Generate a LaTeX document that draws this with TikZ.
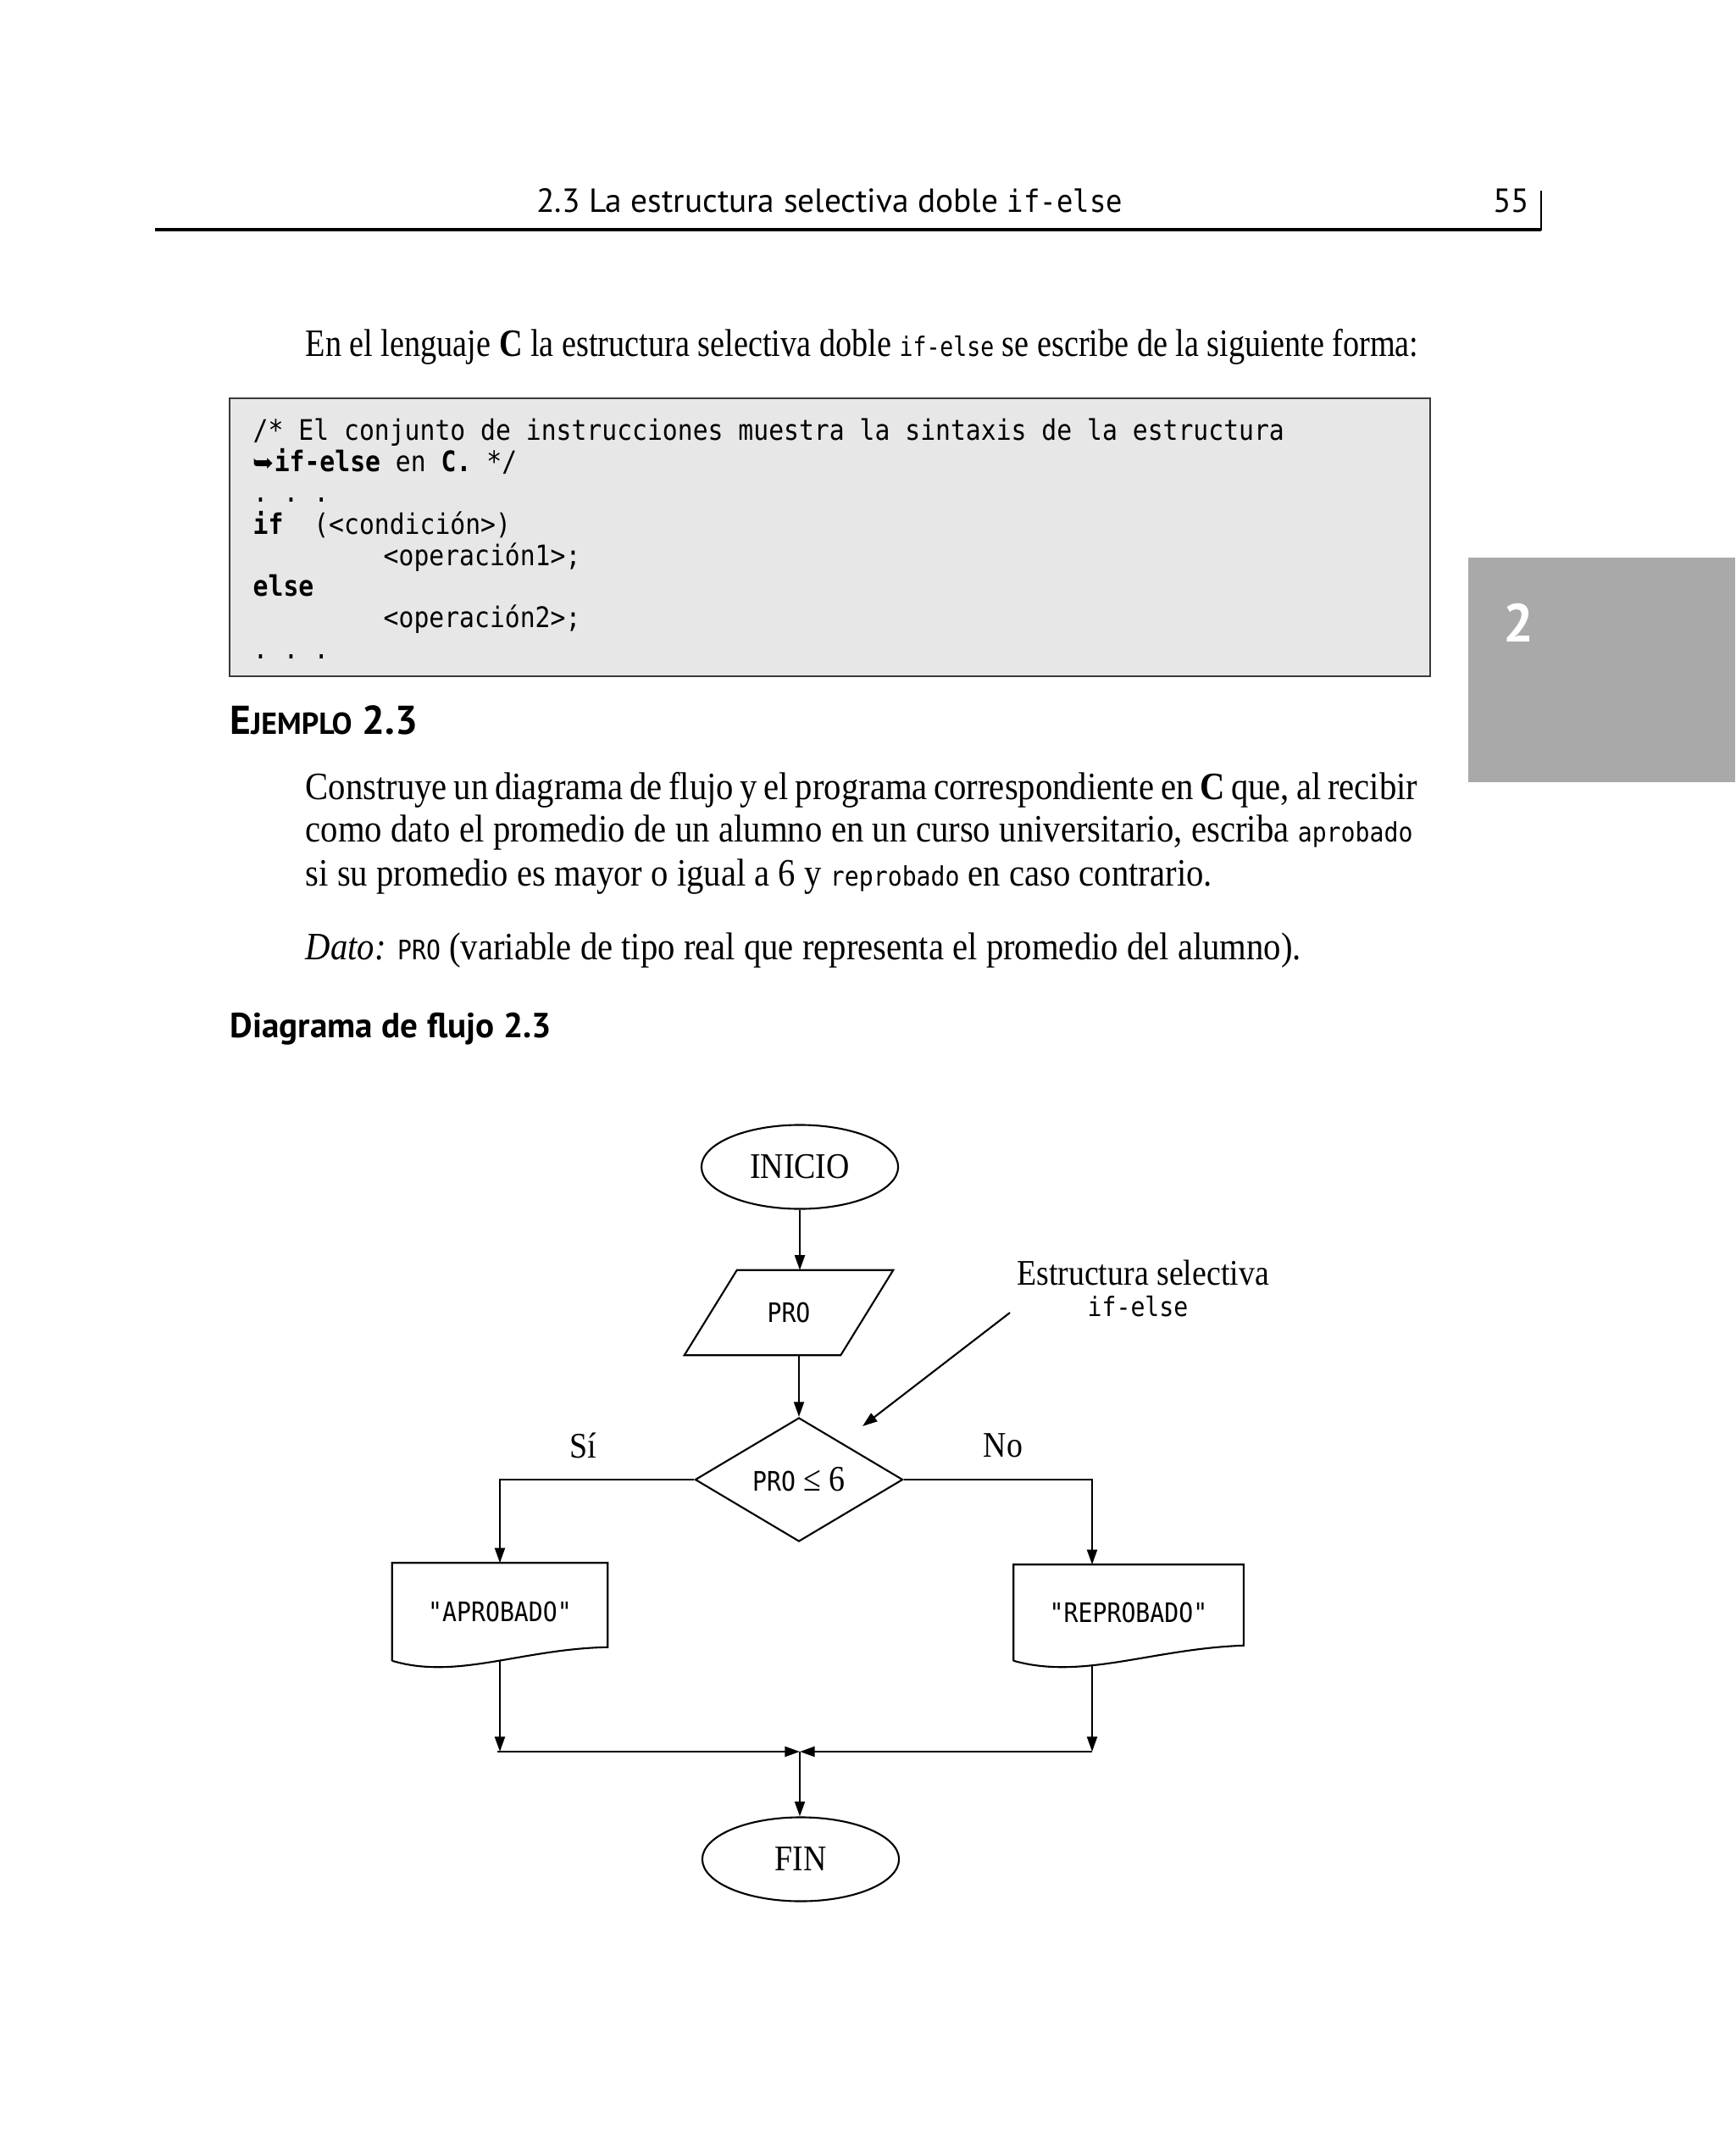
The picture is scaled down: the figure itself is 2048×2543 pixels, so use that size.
\documentclass[tikz,border=0pt]{standalone}
\usepackage{fontspec}
\setmainfont{Liberation Serif}[FakeStretch=0.89]
\setsansfont{PT Sans}
\newfontfamily\codefont{DejaVu Sans Mono}[FakeStretch=0.89]
\newfontfamily\symfont{DejaVu Sans}
\usepackage{graphicx}
\usepackage{xcolor}
\usepackage{tikz}
\usetikzlibrary{shapes,arrows,arrows.meta,positioning,calc}

\definecolor{boxgray}{HTML}{E7E7E7}
\definecolor{boxline}{HTML}{3A3A3A}
\definecolor{tabgray}{HTML}{A9A9A9}

\newcommand{\bodyfont}{\fontsize{13}{15.5}\selectfont}
\newcommand{\flowfont}{\fontsize{12.1}{14}\selectfont}
\newcommand{\cmono}[1]{{\codefont\fontsize{9}{10}\selectfont #1}}

\begin{document}
\begin{tikzpicture}[
    x=0.01cm, y=-0.01cm,
    txt/.style={anchor=base west, inner sep=0pt, font=\bodyfont},
    code/.style={anchor=base west, inner sep=0pt, font=\codefont\fontsize{9.5}{11}\selectfont},
    head/.style={anchor=base, inner sep=0pt, font=\sffamily\fontsize{11.2}{13}\selectfont},
    term/.style={ellipse, draw, line width=0.6pt, minimum width=2.32cm, minimum height=0.99cm, inner sep=0pt, font=\flowfont},
    io/.style={minimum width=1.83cm, minimum height=0.99cm, inner sep=0pt},
    dec/.style={diamond, draw, line width=0.6pt, aspect=1.68, minimum width=2.45cm, minimum height=1.46cm, inner sep=0pt, font=\flowfont},
    doc/.style={minimum width=2.53cm, minimum height=1.14cm, inner sep=0pt},
    flow/.style={line width=0.6pt},
    arrow/.style={-{Triangle[length=5pt,width=3.4pt]}, line width=0.6pt}
]
\useasboundingbox (0,0) rectangle (2048,2543);

% running head
\node[head] (headtxt) at (979,251) {2.3 La estructura selectiva doble {\codefont\fontsize{10.3}{12}\selectfont if-else}};
\node[head, anchor=base east] (pagenum) at (1806,251) {55};
\draw[line width=1.3pt] (183,271) -- (1819,271);
\draw[line width=0.5pt] (1819,225) -- (1819,272);

% chapter tab
\fill[tabgray] (1733,658) rectangle (2048,923);
\node[font=\sffamily\bfseries\fontsize{18}{20}\selectfont, text=white] (tabnum) at (1792,735) {2};

\node[txt] (intro) at (360,421) {\resizebox{13.13cm}{\height}{En el lenguaje \textbf{C} la estructura selectiva doble \cmono{if-else} se escribe de la siguiente forma:}};

% code box
\draw[boxline, fill=boxgray, line width=0.8pt] (271,470) rectangle (1688,798);
\node[code] (c1) at (298,520) {/* El conjunto de instrucciones muestra la sintaxis de la estructura};
\node[code] (c2) at (298,557) {{\symfont\fontsize{8.5}{10}\selectfont ➥}\textbf{if-else} en \textbf{C.} */};
\node[code] (c3) at (298,593) {.\ .\ .};
\node[code] (c4) at (298,630) {\textbf{if}\ \ (<condición>)};
\node[code] (c5) at (452,667) {<operación1>;};
\node[code] (c6) at (298,703) {\textbf{else}};
\node[code] (c7) at (452,740) {<operación2>;};
\node[code] (c8) at (298,777) {.\ .\ .};

% example
\node[anchor=base west, inner sep=0pt, font=\sffamily\bfseries\fontsize{13.5}{16}\selectfont] (ejemplo) at (271,866) {E{\fontsize{10.2}{12}\selectfont JEMPLO} 2.3};
\node[txt] (p1) at (360,943) {\makebox[13.12cm][s]{Construye un diagrama de flujo y el programa correspondiente en \textbf{C} que, al recibir}};
\node[txt] (p2) at (360,993) {\makebox[13.06cm][s]{como dato el promedio de un alumno en un curso universitario, escriba \cmono{aprobado}}};
\node[txt] (p3) at (360,1045) {si su promedio es mayor o igual a 6 y \cmono{reprobado} en caso contrario.};
\node[txt] (dato) at (360,1132) {\textit{Dato:} \cmono{PRO} (variable de tipo real que representa el promedio del alumno).};
\node[anchor=base west, inner sep=0pt, font=\sffamily\bfseries\fontsize{11.7}{14}\selectfont] (diag) at (271,1224) {Diagrama de flujo 2.3};

% flowchart
\node[term] (inicio) at (944,1377) {INICIO};
\node[io] (pro) at (931,1549) {\cmono{PRO}};
\node[dec] (cond) at (943,1746) {\cmono{PRO} ≤ 6};
\node[font=\flowfont] (si) at (688,1706) {Sí};
\node[font=\flowfont] (no) at (1184,1706) {No};
\node[doc] (apr) at (590,1902) {\cmono{"APROBADO"}};
\node[doc, minimum width=2.70cm, minimum height=1.12cm] (rep) at (1332,1903) {\cmono{"REPROBADO"}};
\node[term] (fin) at (945,2194) {FIN};

\node[font=\flowfont, anchor=base, inner sep=0pt] (note) at (1349,1516) {Estructura selectiva};
\node[anchor=base, inner sep=0pt] (noteb) at (1343,1553) {\cmono{if-else}};

\draw[flow] ([xshift=0.31cm]pro.north west) -- ([xshift=0.31cm]pro.north east)
  -- ([xshift=-0.31cm]pro.south east) -- ([xshift=-0.31cm]pro.south west) -- cycle;
\draw[flow] (apr.south west) -- (apr.north west) -- (apr.north east) -- ($(apr.south east)+(0,-16)$)
  .. controls ($(apr.south west)!0.6!(apr.south east)+(0,-14)$) and ($(apr.south west)!0.3!(apr.south east)+(0,23)$) .. (apr.south west);
\draw[flow] (rep.south west) -- (rep.north west) -- (rep.north east) -- ($(rep.south east)+(0,-18)$)
  .. controls ($(rep.south west)!0.6!(rep.south east)+(0,-14)$) and ($(rep.south west)!0.3!(rep.south east)+(0,23)$) .. (rep.south west);

\coordinate (jl) at (587,2067);
\coordinate (jr) at (1289,2067);
\coordinate (jc) at (944,2067);
\coordinate (notefrom) at (1192,1549);
\coordinate (notetip) at (1018,1683);

\draw[arrow] (inicio.south) -- (inicio.south |- pro.north);
\draw[arrow] (cond.north |- pro.south) -- (cond.north);
\draw[arrow] (cond.west) -| (apr.north);
\draw[arrow] (cond.east) -| (jr |- rep.north);
\draw[arrow] (apr.south) -- (apr.south |- jl);
\draw[arrow] ([yshift=-0.06cm]jr |- rep.south) -- (jr);
\draw[arrow] (jl) -- (jc);
\draw[arrow] (jr) -- (jc);
\draw[arrow] (jc) -- (jc |- fin.north);
\draw[arrow] (notefrom) -- (notetip);
\end{tikzpicture}
\end{document}
